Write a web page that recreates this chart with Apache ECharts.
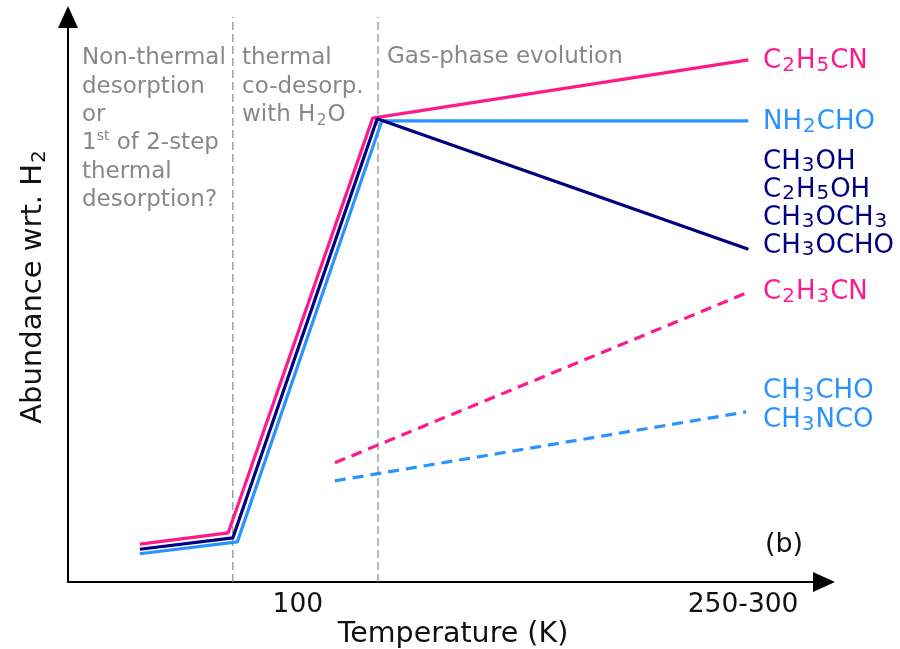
<!DOCTYPE html>
<html><head><meta charset="utf-8">
<script src="https://cdn.jsdelivr.net/npm/echarts@6/dist/echarts.min.js"></script>
<style>html,body{margin:0;padding:0;background:#fff}#c{width:900px;height:649px}</style>
</head><body><div id="c"></div>
<script>
// ---- data (schematic units: x 0..100 along temperature, y 0..100 abundance) ----
const tickPositions = [30.4, 89.3];
const tickLabels = ['100', '250-300'];
const boundaryX = [21.8, 41.0];
const boundaryY = [0, 100];

const c2h5cnX = [9.5, 21.2, 40.3, 90.0];
const c2h5cnY = [6.7, 8.7, 82.1, 92.4];
const ch3ohX = [9.5, 21.8, 40.9, 90.0];
const ch3ohY = [5.8, 7.8, 82.0, 58.9];
const nh2choX = [9.5, 22.4, 41.5, 90.0];
const nh2choY = [5.0, 7.1, 81.6, 81.6];
const c2h3cnX = [35.3, 90.0];
const c2h3cnY = [21.1, 51.3];
const ch3choX = [35.3, 89.7];
const ch3choY = [17.9, 30.1];

const PINK = '#ff1a8c', NAVY = '#000080', BLUE = '#2a93ff', GRAY = '#888888';
const FONT = 'DejaVu Sans';

function zip(xs, ys) { return xs.map((x, i) => [x, ys[i]]); }

// "C_2H_5CN" -> rich text with subscripts; "1^st" -> superscript
function rich(str) {
  let out = '', buf = '';
  for (let i = 0; i < str.length; i++) {
    const ch = str[i];
    if (ch === '_' || ch === '^') {
      if (buf) { out += '{n|' + buf + '}'; buf = ''; }
      let j = i + 1, t = '';
      while (j < str.length && /[0-9a-z]/.test(str[j]) && (ch === '^' || /[0-9]/.test(str[j]))) { t += str[j]; j++; }
      out += '{' + (ch === '_' ? 's' : 'p') + '|' + t + '}';
      i = j - 1;
    } else buf += ch;
  }
  if (buf) out += '{n|' + buf + '}';
  return out;
}
function richStyles(size, color, lh, subScale) {
  const ss = subScale || 0.7;
  return {
    n: { fontSize: size, fontFamily: FONT, color: color, lineHeight: lh, verticalAlign: 'middle' },
    s: { fontSize: Math.round(size * ss), fontFamily: FONT, color: color, lineHeight: Math.round(size * ss), verticalAlign: 'bottom', padding: [0, 1, 0, 1] },
    p: { fontSize: Math.round(size * 0.62), fontFamily: FONT, color: color, lineHeight: Math.round(size * 0.62), verticalAlign: 'top' }
  };
}
function textEl(x, y, lines, color, size, lh, subScale) {
  return {
    type: 'text', x: x, y: y, silent: true,
    style: {
      text: lines.map(rich).join('\n'),
      rich: richStyles(size, color, lh, subScale),
      fill: color, font: size + 'px ' + FONT,
      textAlign: 'left', textVerticalAlign: 'top'
    }
  };
}

const chart = echarts.init(document.getElementById('c'), null, { renderer: 'canvas' });

function solid(name, xs, ys, color, z) {
  return { name, type: 'line', data: zip(xs, ys), symbol: 'none', z: z,
    lineStyle: { color, width: 3.2 }, silent: true };
}
function dashed(name, xs, ys, color) {
  return { name, type: 'line', data: zip(xs, ys), symbol: 'none', z: 3,
    lineStyle: { color, width: 3.2, type: [11, 7] }, silent: true };
}
function boundary(x) {
  return { type: 'line', data: [[x, boundaryY[0]], [x, boundaryY[1]]], symbol: 'none', z: 1,
    lineStyle: { color: '#888', width: 1.2, type: [8, 4] }, silent: true };
}

chart.setOption({
  animation: false,
  backgroundColor: '#fff',
  grid: { left: 68, right: 76, top: 17, bottom: 67, containLabel: false, outerBoundsMode: 'none' },
  xAxis: {
    type: 'value', min: 0, max: 100,
    name: 'Temperature (K)', nameLocation: 'middle', nameGap: 38, nameMoveOverlap: false,
    nameTextStyle: { fontSize: 28.5, fontFamily: FONT, color: '#111', padding: [0, 0, 0, 14] },
    axisLine: { show: true, onZero: false, symbol: ['none', 'triangle'], symbolSize: [20, 22],
      lineStyle: { color: '#000', width: 2 } },
    axisTick: { show: false },
    splitLine: { show: false },
    axisLabel: {
      show: true, customValues: tickPositions, margin: 10,
      fontSize: 26.5, fontFamily: FONT, color: '#111',
      formatter: function (v) {
        const i = tickPositions.findIndex(t => Math.abs(t - v) < 1e-6);
        return i >= 0 ? tickLabels[i] : '';
      }
    }
  },
  yAxis: {
    type: 'value', min: 0, max: 100,
    name: '{n|Abundance wrt. H}{s|2}', nameLocation: 'middle', nameGap: 18, nameRotate: 90, nameMoveOverlap: false,
    nameTextStyle: { fontSize: 29, fontFamily: FONT, color: '#111', rich: richStyles(29, '#111', 34), padding: [0, 0, 0, 26] },
    axisLine: { show: true, onZero: false, symbol: ['none', 'triangle'], symbolSize: [20, 22],
      lineStyle: { color: '#000', width: 2 } },
    axisTick: { show: false },
    splitLine: { show: false },
    axisLabel: { show: false }
  },
  series: [
    boundary(boundaryX[0]),
    boundary(boundaryX[1]),
    dashed('C2H3CN', c2h3cnX, c2h3cnY, PINK),
    dashed('CH3CHO', ch3choX, ch3choY, BLUE),
    solid('NH2CHO', nh2choX, nh2choY, BLUE, 4),
    solid('C2H5CN', c2h5cnX, c2h5cnY, PINK, 5),
    solid('CH3OH', ch3ohX, ch3ohY, NAVY, 6)
  ],
  graphic: [
    textEl(82, 44, ['Non-thermal', 'desorption', 'or', '1^st of 2-step', 'thermal', 'desorption?'], GRAY, 23, 28.4),
    textEl(242, 44, ['thermal', 'co-desorp.', 'with H_2O'], GRAY, 23, 28.4),
    textEl(387, 43, ['Gas-phase evolution'], GRAY, 23, 28.4),
    textEl(763, 46, ['C_2H_5CN'], PINK, 26, 30, 0.75),
    textEl(763, 107, ['NH_2CHO'], BLUE, 26, 30, 0.75),
    textEl(763, 148, ['CH_3OH', 'C_2H_5OH', 'CH_3OCH_3', 'CH_3OCHO'], NAVY, 26, 28, 0.75),
    textEl(763, 277, ['C_2H_3CN'], PINK, 26, 30, 0.75),
    textEl(763, 376, ['CH_3CHO', 'CH_3NCO'], BLUE, 26, 29.5, 0.75),
    { type: 'text', x: 784, y: 545, silent: true,
      style: { text: '(b)', font: '27px ' + FONT, fill: '#111', textAlign: 'center', textVerticalAlign: 'middle' } }
  ]
});
</script>
</body></html>
